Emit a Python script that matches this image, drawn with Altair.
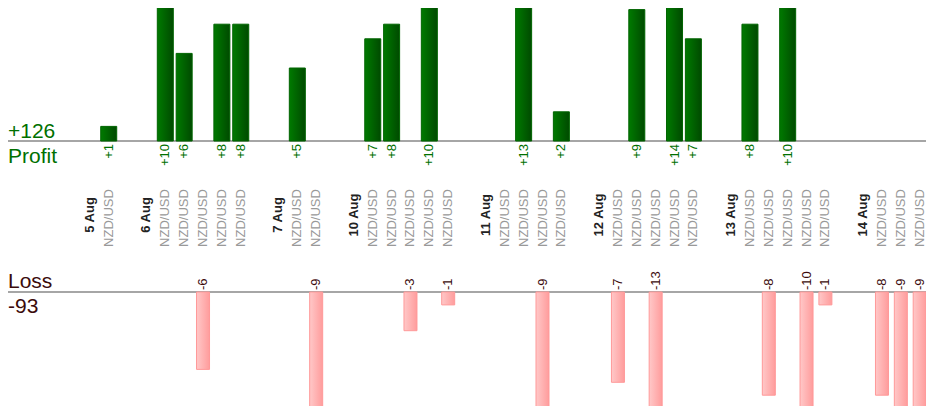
import altair as alt
import pandas as pd

# ---- data ----
dates = ["5 Aug", "6 Aug", "7 Aug", "10 Aug", "11 Aug", "12 Aug", "13 Aug", "14 Aug"]
trade_values = [
    [1],
    [10, 6, -6, 8, 8],
    [5, -9],
    [7, 8, -3, 10, -1],
    [0, 13, -9, 2],
    [-7, 9, -13, 14, 7],
    [8, -8, 10, -10, -1],
    [-8, -9, -9],
]
pair = "NZD/USD"
side_titles = ["Profit", "Loss"]

# ---- build tables (slot = position along the axis) ----
date_rows, trade_rows = [], []
slot = 0
for d, vals in zip(dates, trade_values):
    slot += 1  # empty gap slot before each date
    date_rows.append({"slot": slot, "label": d})
    slot += 1
    for v in vals:
        trade_rows.append({"slot": slot, "v": v, "pair": pair})
        slot += 1
n_slots = slot

trades = pd.DataFrame(trade_rows)
profit = trades[trades.v > 0].copy()
profit["label"] = "+" + profit.v.astype(str)
profit["zero"] = 0
loss = trades[trades.v < 0].copy()
loss["mag"] = -loss.v
loss["label"] = loss.v.astype(str)
loss["zero"] = 0
date_df = pd.DataFrame(date_rows)

total_profit = int(profit.v.sum())
total_loss = int(loss.v.sum())

FONT = "Liberation Sans"
W, H = 918, 398

xs = alt.Scale(domain=[0, n_slots - 1], range=[63, 911.7], padding=0, nice=False, zero=False)
X = alt.X("slot:Q", scale=xs, axis=None)

green_grad = alt.Gradient(
    gradient="linear",
    stops=[alt.GradientStop(offset=0, color="#007a00"),
           alt.GradientStop(offset=1, color="#004a00")],
    x1=0, x2=1, y1=0, y2=0,
)
pink_grad = alt.Gradient(
    gradient="linear",
    stops=[alt.GradientStop(offset=0, color="#ffc8c8"),
           alt.GradientStop(offset=1, color="#ff9c9c")],
    x1=0, x2=1, y1=0, y2=0,
)

profit_bars = alt.Chart(profit).mark_bar(
    width=16, fill=green_grad, stroke="#006400", strokeWidth=1, clip=True
).encode(
    x=X,
    y=alt.Y("v:Q", scale=alt.Scale(domain=[0, 10], range=[133, -13]), axis=None),
    y2="zero:Q",
)

loss_bars = alt.Chart(loss).mark_bar(
    width=13, fill=pink_grad, stroke="#ff9999", strokeWidth=1, clip=True
).encode(
    x=X,
    y=alt.Y("mag:Q", scale=alt.Scale(domain=[0, 10], range=[284, 413]), axis=None),
    y2="zero:Q",
)

profit_labels = alt.Chart(profit).mark_text(
    angle=270, align="right", baseline="middle", font=FONT, fontSize=13, color="#007000"
).encode(x=X, y=alt.value(136), text="label:N")

loss_labels = alt.Chart(loss).mark_text(
    angle=270, align="left", baseline="middle", font=FONT, fontSize=13, color="#3b0b0b"
).encode(x=X, y=alt.value(282), text="label:N")

date_labels = alt.Chart(date_df).mark_text(
    angle=270, align="center", baseline="middle", font=FONT, fontSize=13,
    fontWeight="bold", color="#222222"
).encode(x=X, y=alt.value(207), text="label:N")

pair_labels = alt.Chart(trades).mark_text(
    angle=270, align="center", baseline="middle", font=FONT, fontSize=13, color="#999999"
).encode(x=X, y=alt.value(210), text="pair:N")

base_df = pd.DataFrame({"yv": [133, 284]})
baselines = alt.Chart(base_df).mark_rule(color="#888888", strokeWidth=1.5).encode(
    x=alt.value(0), x2=alt.value(W), y=alt.Y("yv:Q", scale=None)
)

side_df = pd.DataFrame({
    "text": [f"+{total_profit}", side_titles[0], side_titles[1], f"{total_loss}"],
    "yy": [129.7, 154.7, 279.7, 305.3],
    "col": ["#007000", "#007000", "#3b0b0b", "#3b0b0b"],
})
side_text = alt.Chart(side_df).mark_text(
    align="left", baseline="alphabetic", font=FONT, fontSize=21
).encode(
    x=alt.value(0),
    y=alt.Y("yy:Q", scale=None),
    text="text:N",
    color=alt.Color("col:N", scale=None),
)

chart = alt.layer(
    baselines, profit_bars, loss_bars, profit_labels, loss_labels,
    date_labels, pair_labels, side_text
).resolve_scale(y="independent").properties(
    width=W, height=H, autosize=alt.AutoSizeParams(type="none"), padding=0
).configure_view(stroke=None)

chart.save("out.html", embed_options={"renderer": "svg", "actions": False})
